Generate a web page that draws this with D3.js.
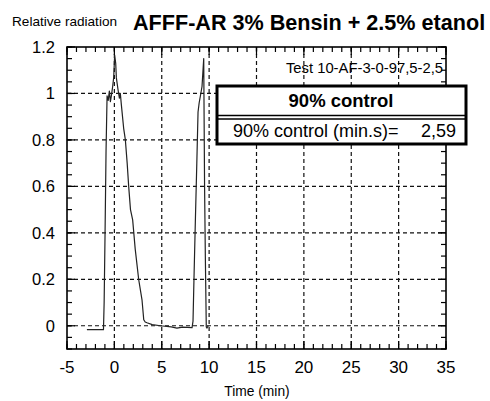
<!DOCTYPE html>
<html>
<head>
<meta charset="utf-8">
<script src="https://cdn.jsdelivr.net/npm/d3@7"></script>
<style>
html,body{margin:0;padding:0;background:#fff;}
svg{display:block;font-family:"Liberation Sans",Arial,Helvetica,sans-serif;}
</style>
</head>
<body>
<svg id="chart" width="490" height="401"></svg>
<script>
const titleText = "AFFF-AR 3% Bensin + 2.5% etanol";
const yAxisTitle = "Relative radiation";
const xAxisTitle = "Time (min)";
const testLabel = "Test 10-AF-3-0-97,5-2,5";
const legendTitle = "90% control";
const legendLabel = "90% control (min.s)=";
const legendValue = "2,59";

const xTicks = [-5, 0, 5, 10, 15, 20, 25, 30, 35];
const xTickLabels = ["-5", "0", "5", "10", "15", "20", "25", "30", "35"];
const yTicks = [0, 0.2, 0.4, 0.6, 0.8, 1, 1.2];
const yTickLabels = ["0", "0.2", "0.4", "0.6", "0.8", "1", "1.2"];

const time = [-2.9, -1.15, -1.08, -0.98, -0.88, -0.77, -0.65, -0.53, -0.42, -0.32, -0.18, -0.07, 0.03, 0.14, 0.21, 0.39, 0.53, 0.63, 0.74, 0.98, 1.16, 1.35, 1.51, 1.7, 1.93, 2.2, 2.57, 2.92, 3.1, 3.25, 3.44, 4.0, 4.85, 6.0, 6.6, 7.2, 8.2, 8.3, 8.4, 8.55, 8.7, 8.83, 8.95, 9.08, 9.25, 9.43, 9.47, 9.52, 9.6, 9.7, 9.78, 9.9];
const radiation = [-0.017, -0.017, 0.1, 0.41, 0.75, 0.99, 0.97, 1.01, 0.965, 0.99, 1.03, 1.07, 1.165, 1.13, 1.067, 1.015, 0.98, 1.0, 0.95, 0.85, 0.8, 0.7, 0.6, 0.5, 0.456, 0.33, 0.198, 0.11, 0.026, 0.016, 0.013, 0.005, 0.0, -0.005, -0.01, -0.006, -0.008, 0.02, 0.2, 0.456, 0.7, 0.92, 0.96, 0.99, 1.03, 1.15, 0.9, 0.6, 0.3, -0.005, -0.01, 0.0];

const svg = d3.select("#chart");
const L = 67, R = 446, T = 47, B = 349;
const x = d3.scaleLinear().domain([-5, 35]).range([L, R]);
const y = d3.scaleLinear().domain([-0.1, 1.2]).range([B, T]);
const FONT = "'Liberation Sans', Arial, Helvetica, sans-serif";

// Grid
const grid = svg.append("g").attr("stroke", "#111").attr("stroke-width", 1.2)
  .attr("stroke-dasharray", "4,3").attr("fill", "none");
grid.selectAll(".gx").data(xTicks.slice(1, -1)).join("line")
  .attr("x1", d => x(d)).attr("x2", d => x(d)).attr("y1", T).attr("y2", B);
grid.selectAll(".gy").data(yTicks.slice(0, -1)).join("line")
  .attr("x1", L).attr("x2", R).attr("y1", d => y(d)).attr("y2", d => y(d));

// Frame
svg.append("rect").attr("x", L).attr("y", T).attr("width", R - L).attr("height", B - T)
  .attr("fill", "none").attr("stroke", "#000").attr("stroke-width", 1.6);

// Inward ticks on all four sides
const xMinor = d3.range(-5, 36, 1);
const yMinor = d3.range(-2, 25, 1).map(v => v * 0.05);
const tk = svg.append("g").attr("stroke", "#000").attr("stroke-width", 1.2);
function xt(vals, len) {
  tk.append("g").selectAll("line").data(vals).join("line")
    .attr("x1", d => x(d)).attr("x2", d => x(d)).attr("y1", B).attr("y2", B - len);
  tk.append("g").selectAll("line").data(vals).join("line")
    .attr("x1", d => x(d)).attr("x2", d => x(d)).attr("y1", T).attr("y2", T + len);
}
function yt(vals, len) {
  tk.append("g").selectAll("line").data(vals).join("line")
    .attr("y1", d => y(d)).attr("y2", d => y(d)).attr("x1", L).attr("x2", L + len);
  tk.append("g").selectAll("line").data(vals).join("line")
    .attr("y1", d => y(d)).attr("y2", d => y(d)).attr("x1", R).attr("x2", R - len);
}
xt(xMinor, 5); xt(xTicks, 8);
yt(yMinor, 5); yt(yTicks, 8);

// Tick labels
svg.append("g").selectAll("text").data(xTicks).join("text")
  .attr("x", d => x(d)).attr("y", 373).attr("text-anchor", "middle")
  .attr("font-size", 17).attr("font-family", FONT).text((d, i) => xTickLabels[i]);
svg.append("g").selectAll("text").data(yTicks).join("text")
  .attr("x", 55).attr("y", d => y(d)).attr("dy", "0.35em").attr("text-anchor", "end")
  .attr("font-size", 16.5).attr("font-family", FONT).text((d, i) => yTickLabels[i]);

// Data line
const pts = time.map((t, i) => [t, radiation[i]]);
svg.append("path").datum(pts)
  .attr("fill", "none").attr("stroke", "#222").attr("stroke-width", 1.2)
  .attr("stroke-linejoin", "round")
  .attr("d", d3.line().x(d => x(d[0])).y(d => y(d[1])));

// Test label
svg.append("text").attr("x", 443).attr("y", 73).attr("text-anchor", "end")
  .attr("font-size", 14.8).attr("font-family", FONT).text(testLabel);

// Legend box
const lx = 217, ly = 86, lw = 249, lh = 58;
svg.append("rect").attr("x", lx).attr("y", ly).attr("width", lw).attr("height", lh)
  .attr("fill", "#fff").attr("stroke", "#000").attr("stroke-width", 3);
svg.append("line").attr("x1", lx).attr("x2", lx + lw).attr("y1", 115.5).attr("y2", 115.5)
  .attr("stroke", "#000").attr("stroke-width", 1.5);
svg.append("line").attr("x1", lx).attr("x2", lx + lw).attr("y1", 119).attr("y2", 119)
  .attr("stroke", "#000").attr("stroke-width", 1.5);
svg.append("text").attr("x", 341).attr("y", 107).attr("text-anchor", "middle")
  .attr("font-size", 18.5).attr("font-weight", "bold").attr("font-family", FONT).text(legendTitle);
svg.append("text").attr("x", 233).attr("y", 137).attr("font-size", 18).attr("font-family", FONT).text(legendLabel);
svg.append("text").attr("x", 456).attr("y", 137).attr("text-anchor", "end")
  .attr("font-size", 18).attr("font-family", FONT).text(legendValue);

// Titles
svg.append("text").attr("x", 12).attr("y", 26).attr("font-size", 13.6).attr("font-family", FONT).text(yAxisTitle);
svg.append("text").attr("x", 133).attr("y", 30).attr("font-size", 21.6).attr("font-weight", "bold")
  .attr("font-family", FONT).text(titleText);
svg.append("text").attr("x", 257).attr("y", 396).attr("text-anchor", "middle")
  .attr("font-size", 13.8).attr("font-family", FONT).text(xAxisTitle);
</script>
</body>
</html>
